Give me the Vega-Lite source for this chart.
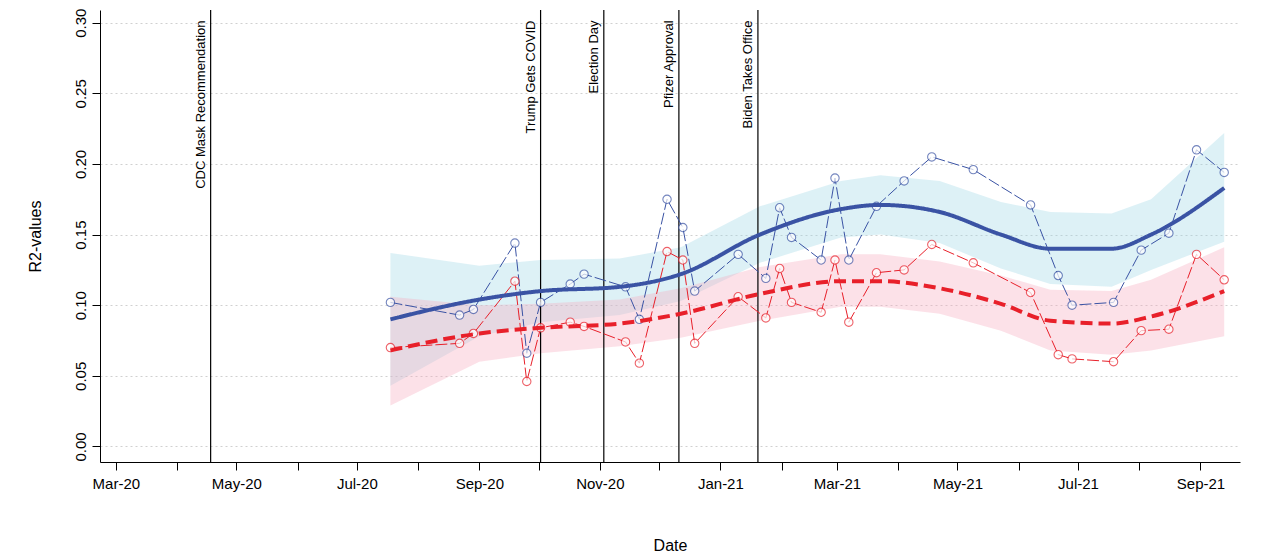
{
  "$schema": "https://vega.github.io/schema/vega-lite/v6.json",
  "width": 1140,
  "height": 452,
  "autosize": "none",
  "padding": {"left": 100, "top": 10, "right": 34, "bottom": 96},
  "config": {"view": {"stroke": null}, "font": "Liberation Sans"},
  "datasets": {
    "pts": [
      {"date": "2020-07-18", "s": "Trust + Demographics", "v": 0.102},
      {"date": "2020-08-22", "s": "Trust + Demographics", "v": 0.093},
      {"date": "2020-08-29", "s": "Trust + Demographics", "v": 0.097},
      {"date": "2020-09-19", "s": "Trust + Demographics", "v": 0.144},
      {"date": "2020-09-25", "s": "Trust + Demographics", "v": 0.066},
      {"date": "2020-10-02", "s": "Trust + Demographics", "v": 0.102},
      {"date": "2020-10-17", "s": "Trust + Demographics", "v": 0.115},
      {"date": "2020-10-24", "s": "Trust + Demographics", "v": 0.122},
      {"date": "2020-11-14", "s": "Trust + Demographics", "v": 0.113},
      {"date": "2020-11-21", "s": "Trust + Demographics", "v": 0.090},
      {"date": "2020-12-05", "s": "Trust + Demographics", "v": 0.175},
      {"date": "2020-12-13", "s": "Trust + Demographics", "v": 0.155},
      {"date": "2020-12-19", "s": "Trust + Demographics", "v": 0.110},
      {"date": "2021-01-10", "s": "Trust + Demographics", "v": 0.136},
      {"date": "2021-01-24", "s": "Trust + Demographics", "v": 0.119},
      {"date": "2021-01-31", "s": "Trust + Demographics", "v": 0.169},
      {"date": "2021-02-06", "s": "Trust + Demographics", "v": 0.148},
      {"date": "2021-02-21", "s": "Trust + Demographics", "v": 0.132},
      {"date": "2021-02-28", "s": "Trust + Demographics", "v": 0.190},
      {"date": "2021-03-07", "s": "Trust + Demographics", "v": 0.132},
      {"date": "2021-03-21", "s": "Trust + Demographics", "v": 0.170},
      {"date": "2021-04-04", "s": "Trust + Demographics", "v": 0.188},
      {"date": "2021-04-18", "s": "Trust + Demographics", "v": 0.205},
      {"date": "2021-05-09", "s": "Trust + Demographics", "v": 0.196},
      {"date": "2021-06-07", "s": "Trust + Demographics", "v": 0.171},
      {"date": "2021-06-21", "s": "Trust + Demographics", "v": 0.121},
      {"date": "2021-06-28", "s": "Trust + Demographics", "v": 0.100},
      {"date": "2021-07-19", "s": "Trust + Demographics", "v": 0.102},
      {"date": "2021-08-02", "s": "Trust + Demographics", "v": 0.139},
      {"date": "2021-08-16", "s": "Trust + Demographics", "v": 0.151},
      {"date": "2021-08-30", "s": "Trust + Demographics", "v": 0.210},
      {"date": "2021-09-13", "s": "Trust + Demographics", "v": 0.194},
      {"date": "2020-07-18", "s": "Trust + All Predictors", "v": 0.070},
      {"date": "2020-08-22", "s": "Trust + All Predictors", "v": 0.073},
      {"date": "2020-08-29", "s": "Trust + All Predictors", "v": 0.080},
      {"date": "2020-09-19", "s": "Trust + All Predictors", "v": 0.117},
      {"date": "2020-09-25", "s": "Trust + All Predictors", "v": 0.046},
      {"date": "2020-10-02", "s": "Trust + All Predictors", "v": 0.084},
      {"date": "2020-10-17", "s": "Trust + All Predictors", "v": 0.088},
      {"date": "2020-10-24", "s": "Trust + All Predictors", "v": 0.085},
      {"date": "2020-11-14", "s": "Trust + All Predictors", "v": 0.074},
      {"date": "2020-11-21", "s": "Trust + All Predictors", "v": 0.059},
      {"date": "2020-12-05", "s": "Trust + All Predictors", "v": 0.138},
      {"date": "2020-12-13", "s": "Trust + All Predictors", "v": 0.132},
      {"date": "2020-12-19", "s": "Trust + All Predictors", "v": 0.073},
      {"date": "2021-01-10", "s": "Trust + All Predictors", "v": 0.106},
      {"date": "2021-01-24", "s": "Trust + All Predictors", "v": 0.091},
      {"date": "2021-01-31", "s": "Trust + All Predictors", "v": 0.126},
      {"date": "2021-02-06", "s": "Trust + All Predictors", "v": 0.102},
      {"date": "2021-02-21", "s": "Trust + All Predictors", "v": 0.095},
      {"date": "2021-02-28", "s": "Trust + All Predictors", "v": 0.132},
      {"date": "2021-03-07", "s": "Trust + All Predictors", "v": 0.088},
      {"date": "2021-03-21", "s": "Trust + All Predictors", "v": 0.123},
      {"date": "2021-04-04", "s": "Trust + All Predictors", "v": 0.125},
      {"date": "2021-04-18", "s": "Trust + All Predictors", "v": 0.143},
      {"date": "2021-05-09", "s": "Trust + All Predictors", "v": 0.130},
      {"date": "2021-06-07", "s": "Trust + All Predictors", "v": 0.109},
      {"date": "2021-06-21", "s": "Trust + All Predictors", "v": 0.065},
      {"date": "2021-06-28", "s": "Trust + All Predictors", "v": 0.062},
      {"date": "2021-07-19", "s": "Trust + All Predictors", "v": 0.060},
      {"date": "2021-08-02", "s": "Trust + All Predictors", "v": 0.082},
      {"date": "2021-08-16", "s": "Trust + All Predictors", "v": 0.083},
      {"date": "2021-08-30", "s": "Trust + All Predictors", "v": 0.136},
      {"date": "2021-09-13", "s": "Trust + All Predictors", "v": 0.118}
    ],
    "fit": [
      {"date": "2020-07-18", "s": "Trust + Demographics", "f": 0.090, "lo": 0.043, "hi": 0.137},
      {"date": "2020-09-01", "s": "Trust + Demographics", "f": 0.104, "lo": 0.078, "hi": 0.128},
      {"date": "2020-10-02", "s": "Trust + Demographics", "f": 0.110, "lo": 0.088, "hi": 0.132},
      {"date": "2020-11-11", "s": "Trust + Demographics", "f": 0.113, "lo": 0.093, "hi": 0.133},
      {"date": "2020-12-12", "s": "Trust + Demographics", "f": 0.122, "lo": 0.103, "hi": 0.141},
      {"date": "2021-01-21", "s": "Trust + Demographics", "f": 0.150, "lo": 0.130, "hi": 0.170},
      {"date": "2021-03-03", "s": "Trust + Demographics", "f": 0.168, "lo": 0.148, "hi": 0.188},
      {"date": "2021-03-23", "s": "Trust + Demographics", "f": 0.171, "lo": 0.150, "hi": 0.192},
      {"date": "2021-04-22", "s": "Trust + Demographics", "f": 0.166, "lo": 0.144, "hi": 0.188},
      {"date": "2021-05-23", "s": "Trust + Demographics", "f": 0.150, "lo": 0.126, "hi": 0.173},
      {"date": "2021-06-17", "s": "Trust + Demographics", "f": 0.140, "lo": 0.115, "hi": 0.166},
      {"date": "2021-07-18", "s": "Trust + Demographics", "f": 0.140, "lo": 0.113, "hi": 0.165},
      {"date": "2021-08-07", "s": "Trust + Demographics", "f": 0.150, "lo": 0.125, "hi": 0.175},
      {"date": "2021-09-13", "s": "Trust + Demographics", "f": 0.183, "lo": 0.145, "hi": 0.222},
      {"date": "2020-07-18", "s": "Trust + All Predictors", "f": 0.068, "lo": 0.029, "hi": 0.106},
      {"date": "2020-09-01", "s": "Trust + All Predictors", "f": 0.080, "lo": 0.060, "hi": 0.100},
      {"date": "2020-10-02", "s": "Trust + All Predictors", "f": 0.084, "lo": 0.066, "hi": 0.101},
      {"date": "2020-11-11", "s": "Trust + All Predictors", "f": 0.087, "lo": 0.071, "hi": 0.104},
      {"date": "2020-12-12", "s": "Trust + All Predictors", "f": 0.094, "lo": 0.077, "hi": 0.112},
      {"date": "2021-01-21", "s": "Trust + All Predictors", "f": 0.108, "lo": 0.089, "hi": 0.127},
      {"date": "2021-03-03", "s": "Trust + All Predictors", "f": 0.117, "lo": 0.099, "hi": 0.136},
      {"date": "2021-03-23", "s": "Trust + All Predictors", "f": 0.117, "lo": 0.099, "hi": 0.136},
      {"date": "2021-04-22", "s": "Trust + All Predictors", "f": 0.112, "lo": 0.094, "hi": 0.131},
      {"date": "2021-05-23", "s": "Trust + All Predictors", "f": 0.101, "lo": 0.082, "hi": 0.121},
      {"date": "2021-06-17", "s": "Trust + All Predictors", "f": 0.089, "lo": 0.068, "hi": 0.111},
      {"date": "2021-07-18", "s": "Trust + All Predictors", "f": 0.087, "lo": 0.065, "hi": 0.110},
      {"date": "2021-08-07", "s": "Trust + All Predictors", "f": 0.092, "lo": 0.068, "hi": 0.118},
      {"date": "2021-09-13", "s": "Trust + All Predictors", "f": 0.110, "lo": 0.078, "hi": 0.141}
    ],
    "events": [
      {"date": "2020-04-18", "label": "CDC Mask Recommendation"},
      {"date": "2020-10-02", "label": "Trump Gets COVID"},
      {"date": "2020-11-03", "label": "Election Day"},
      {"date": "2020-12-11", "label": "Pfizer Approval"},
      {"date": "2021-01-20", "label": "Biden Takes Office"}
    ]
  },
  "encoding": {
    "x": {
      "field": "date", "type": "temporal", "title": "Date",
      "scale": {"domain": ["2020-02-22", "2021-09-21"]},
      "axis": {
        "values": [
          {"year": 2020, "month": 3, "date": 1, "utc": true}, {"year": 2020, "month": 4, "date": 1, "utc": true},
          {"year": 2020, "month": 5, "date": 1, "utc": true}, {"year": 2020, "month": 6, "date": 1, "utc": true},
          {"year": 2020, "month": 7, "date": 1, "utc": true}, {"year": 2020, "month": 8, "date": 1, "utc": true},
          {"year": 2020, "month": 9, "date": 1, "utc": true}, {"year": 2020, "month": 10, "date": 1, "utc": true},
          {"year": 2020, "month": 11, "date": 1, "utc": true}, {"year": 2020, "month": 12, "date": 1, "utc": true},
          {"year": 2021, "month": 1, "date": 1, "utc": true}, {"year": 2021, "month": 2, "date": 1, "utc": true},
          {"year": 2021, "month": 3, "date": 1, "utc": true}, {"year": 2021, "month": 4, "date": 1, "utc": true},
          {"year": 2021, "month": 5, "date": 1, "utc": true}, {"year": 2021, "month": 6, "date": 1, "utc": true},
          {"year": 2021, "month": 7, "date": 1, "utc": true}, {"year": 2021, "month": 8, "date": 1, "utc": true},
          {"year": 2021, "month": 9, "date": 1, "utc": true}
        ],
        "labelExpr": "utcmonth(datum.value) % 2 == 0 ? utcFormat(datum.value, '%b-%y') : ''",
        "grid": false, "domainColor": "black", "tickColor": "black", "tickSize": 8,
        "labelFontSize": 15, "labelColor": "black", "labelPadding": 6, "labelFlush": false,
        "titleFontSize": 16, "titleFontWeight": "normal", "titlePadding": 46
      }
    }
  },
  "layer": [
    {
      "data": {"name": "fit"},
      "mark": {"type": "area", "fillOpacity": 0.35},
      "encoding": {
        "y": {"field": "lo", "type": "quantitative"},
        "y2": {"field": "hi"},
        "fill": {"field": "s", "type": "nominal", "legend": null, "scale": {"domain": ["Trust + Demographics", "Trust + All Predictors"], "range": ["#9fd6e6", "#f5a9bd"]}}
      }
    },
    {
      "data": {"name": "events"},
      "mark": {"type": "rule", "color": "black", "strokeWidth": 1.2},
      "encoding": {}
    },
    {
      "data": {"name": "events"},
      "mark": {"type": "text", "angle": 270, "align": "right", "baseline": "bottom", "fontSize": 13, "dx": -2, "dy": -3},
      "encoding": {"text": {"field": "label"}, "y": {"datum": 0.303}}
    },
    {
      "data": {"name": "pts"},
      "mark": {"type": "line", "strokeWidth": 1, "strokeDash": [12, 3]},
      "encoding": {
        "y": {"field": "v", "type": "quantitative"},
        "detail": {"field": "s"},
        "stroke": {"field": "s", "type": "nominal", "legend": null, "scale": {"domain": ["Trust + Demographics", "Trust + All Predictors"], "range": ["#3a53a4", "#e8202a"]}}
      }
    },
    {
      "data": {"name": "pts"},
      "mark": {"type": "point", "shape": "circle", "size": 70, "filled": true, "fill": "white", "strokeWidth": 1.1},
      "encoding": {
        "y": {"field": "v", "type": "quantitative"},
        "stroke": {"field": "s", "type": "nominal", "legend": null, "scale": {"domain": ["Trust + Demographics", "Trust + All Predictors"], "range": ["#3a53a4", "#e8202a"]}}
      }
    },
    {
      "data": {"name": "fit"},
      "mark": {"type": "line", "strokeWidth": 4, "interpolate": "monotone"},
      "encoding": {
        "y": {
          "field": "f", "type": "quantitative", "title": "R2-values",
          "scale": {"domain": [-0.011, 0.309], "nice": false},
          "axis": {
            "values": [0, 0.05, 0.1, 0.15, 0.2, 0.25, 0.3], "format": ".2f",
            "grid": true, "gridDash": [2, 3], "gridColor": "#d0d0d0",
            "domainColor": "black", "tickColor": "black", "tickSize": 8,
            "labelAngle": 270, "labelAlign": "center", "labelBaseline": "bottom", "labelPadding": 4,
            "labelFontSize": 15, "labelColor": "black",
            "titleFontSize": 16, "titleFontWeight": "normal", "titlePadding": 30
          }
        },
        "color": {
          "field": "s", "type": "nominal", "title": null,
          "scale": {"domain": ["Trust + Demographics", "Trust + All Predictors"], "range": ["#3a53a4", "#e8202a"]},
          "legend": {
            "orient": "none", "legendX": 892, "legendY": 380, "symbolType": "stroke",
            "symbolSize": 700, "symbolStrokeWidth": 4, "labelFontSize": 16, "labelColor": "black",
            "strokeColor": "black", "fillColor": "white", "padding": 10, "rowPadding": 6
          }
        },
        "strokeDash": {
          "field": "s", "type": "nominal", "title": null,
          "scale": {"domain": ["Trust + Demographics", "Trust + All Predictors"], "range": [[1, 0], [12, 6]]}
        }
      }
    }
  ]
}
